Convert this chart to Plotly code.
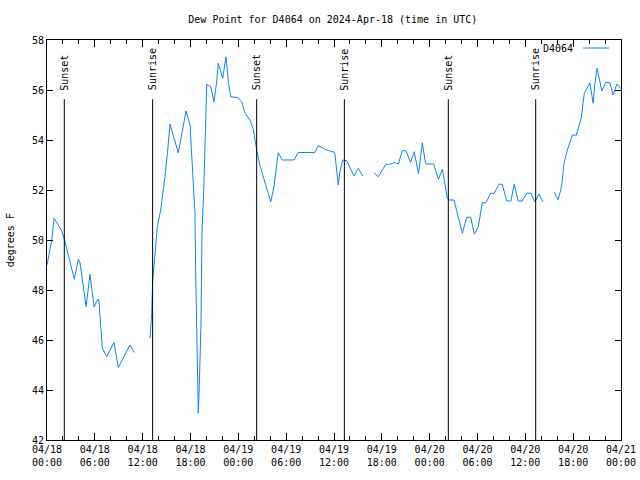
import pandas as pd
import plotly.graph_objects as go

base = pd.Timestamp("2024-04-18 00:00")

# hours after 2024-04-18 00:00 UTC (None = gap in record)
hours = [0.0, 0.6, 0.9, 1.4, 1.84, 2.2, 3.43, 3.93, 4.14, 4.9, 5.4, 5.9, 6.4, 6.5, 6.94,
         7.48, 8.4, 8.95, 10.4, 10.96, 11.9,
         12.92, 13.13, 13.25, 13.55, 13.84, 14.26, 14.8, 15.14, 15.43, 16.47, 17.44, 17.94,
         18.27, 18.56, 18.65, 18.86, 18.98, 19.1, 19.19, 19.32, 19.44, 19.7, 20.03, 20.53,
         20.95, 21.28, 21.49, 22.04, 22.45, 22.75, 23.04, 24.0, 24.42, 24.84, 25.46, 25.9,
         26.3, 26.7, 28.06, 28.47, 29.0, 29.5, 31.0, 31.5, 33.6, 34.0, 35.1, 36.0, 36.1,
         36.53, 36.74, 37.1, 37.6, 38.5, 39.05, 39.6, 40.3,
         41.0, 41.56, 42.5, 43.0, 43.6, 44.07, 44.57, 45.03, 45.6, 46.07, 46.6, 47.08, 47.5,
         48.5, 49.1, 49.6, 50.2, 50.4, 51.05, 52.1, 52.65, 53.15, 53.6, 54.1, 54.6, 55.07,
         55.65, 56.1, 56.7, 57.1, 57.67, 58.2, 58.6, 59.1, 59.6, 60.2, 60.7, 61.2, 61.7,
         62.2, 62.9,
         63.64, 64.1, 64.56, 64.85, 65.3, 65.9, 66.4, 67.0, 67.4, 68.1, 68.5, 68.7, 69.0,
         69.6, 70.1, 70.6, 71.0, 71.5, 72.0]

dew_point = [49.0, 50.0, 50.87, 50.6, 50.37, 50.0, 48.43, 49.23, 49.09, 47.33, 48.63, 47.33,
             47.64, 47.6, 45.68, 45.33, 45.9, 44.9, 45.8, 45.5, None,
             46.07, 47.07, 48.33, 49.33, 50.53, 51.2, 52.53, 53.6, 54.64, 53.49, 55.16, 54.6,
             52.93, 51.07, 48.73, 44.27, 43.07, 44.13, 45.53, 46.73, 50.27, 52.4, 56.23, 56.13,
             55.53, 56.33, 57.07, 56.47, 57.33, 56.33, 55.73, 55.69, 55.53, 55.07, 54.8, 54.4,
             53.6, 53.0, 51.53, 52.13, 53.49, 53.2, 53.2, 53.5, 53.5, 53.77, 53.6, 53.5, 53.5,
             52.2, 52.73, 53.2, 53.17, 52.56, 52.87, 52.56, None,
             52.7, 52.53, 53.03, 53.03, 53.1, 53.04, 53.57, 53.57, 53.1, 53.53, 52.64, 53.89,
             53.04, 53.04, 52.43, 52.83, 51.69, 51.6, 51.6, 50.27, 50.91, 50.91, 50.23, 50.53,
             51.49, 51.49, 51.87, 51.87, 52.23, 52.23, 51.56, 51.56, 52.23, 51.56, 51.56,
             51.87, 51.87, 51.53, 51.84, 51.53, None,
             51.91, 51.6, 52.16, 53.07, 53.63, 54.2, 54.2, 54.87, 55.87, 56.29, 55.47, 56.2,
             56.87, 55.96, 56.31, 56.29, 55.8, 56.24, 56.05]

event_hours = [2.17, 13.25, 26.3, 37.3, 50.34, 61.3]
event_labels = ["Sunset", "Sunrise", "Sunset", "Sunrise", "Sunset", "Sunrise"]
event_top = 55.63

station = "D4064"
title = "Dew Point for D4064 on 2024-Apr-18 (time in UTC)"

times = [base + pd.Timedelta(hours=h) for h in hours]
ev_times = [base + pd.Timedelta(hours=h) for h in event_hours]

FONT = dict(family="DejaVu Sans Mono", size=10, color="black")
LINE_COLOR = "#0a84ff"

fig = go.Figure()
fig.add_trace(go.Scatter(x=times, y=dew_point, mode="lines", name=station,
                         line=dict(color=LINE_COLOR, width=1), connectgaps=False,
                         showlegend=False))

for t, lab in zip(ev_times, event_labels):
    fig.add_shape(type="line", xref="x", yref="y", x0=t, x1=t, y0=42, y1=event_top,
                  line=dict(color="black", width=1))
    fig.add_annotation(x=t, y=55.9, xref="x", yref="y", text=lab, textangle=-90,
                       showarrow=False, xanchor="center", yanchor="bottom", font=FONT)

# legend sample (text then line, gnuplot style)
fig.add_annotation(x=0.92, y=0.98, xref="paper", yref="paper", text=station,
                   showarrow=False, xanchor="right", yanchor="middle", font=FONT)
fig.add_shape(type="line", xref="paper", yref="paper", x0=0.934, x1=0.979, y0=0.98, y1=0.98,
              line=dict(color=LINE_COLOR, width=1))

fig.update_layout(
    width=640, height=480,
    margin=dict(l=47, r=19, t=40, b=40),
    paper_bgcolor="white", plot_bgcolor="white",
    font=FONT,
    title=dict(text=title, x=0.52, xanchor="center", y=0.96, yanchor="middle", font=FONT),
    showlegend=False,
)
fig.update_xaxes(
    type="date", automargin=False,
    range=[base, base + pd.Timedelta(hours=72)],
    tick0=base, dtick=6 * 3600 * 1000, tickformat="%m/%d<br>%H:%M",
    ticks="inside", ticklen=7, tickcolor="black", tickwidth=1,
    minor=dict(dtick=2 * 3600 * 1000, ticks="inside", ticklen=4, tickcolor="black"),
    showline=True, linecolor="black", linewidth=1, mirror="ticks",
    showgrid=False, zeroline=False, tickfont=FONT,
)
fig.update_yaxes(
    range=[42, 58], dtick=2, tick0=42, automargin=False,
    ticks="inside", ticklen=6, tickcolor="black",
    showline=True, linecolor="black", linewidth=1, mirror="ticks",
    showgrid=False, zeroline=False, tickfont=FONT,
)
fig.add_annotation(x=10, y=0.5, xref="paper", yref="paper", text="degrees F", textangle=-90,
                   showarrow=False, font=FONT, xanchor="center", yanchor="middle")
fig.layout.annotations[-1].update(x=-0.064)

fig.write_html("out.html")
